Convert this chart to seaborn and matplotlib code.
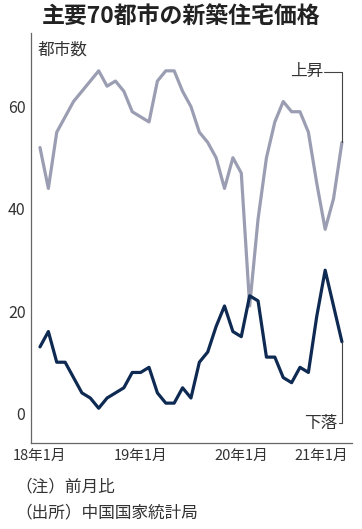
import numpy as np
import pandas as pd
import seaborn as sns
import matplotlib.pyplot as plt
from matplotlib.transforms import ScaledTranslation

# 主要70都市の新築住宅価格（前月比）、18年1月〜21年1月
months = list(range(37))
up = [52, 44, 55, 58, 61, 63, 65, 67, 64, 65, 63, 59,
      58, 57, 65, 67, 67, 63, 60, 55, 53, 50, 44, 50,
      47, 21, 38, 50, 57, 61, 59, 59, 55, 45, 36, 42, 53]
down = [13, 16, 10, 10, 7, 4, 3, 1, 3, 4, 5, 8,
        8, 9, 4, 2, 2, 5, 3, 10, 12, 17, 21, 16,
        15, 23, 22, 11, 11, 7, 6, 9, 8, 19, 28, 21, 14]
tick_pos = [0, 12, 24, 36]
tick_labels = ['18年1月', '19年1月', '20年1月', '21年1月']

sns.set_style('white')
plt.rcParams['font.family'] = ['Noto Sans CJK JP', 'DejaVu Sans']

df = pd.DataFrame({'month': months * 2,
                   'value': up + down,
                   'kind': ['上昇'] * len(up) + ['下落'] * len(down)})

fig = plt.figure(figsize=(3.62, 5.29), dpi=100)
ax = fig.add_axes([31 / 362, 1 - 443 / 529, 321 / 362, 410 / 529])

sns.lineplot(data=df, x='month', y='value', hue='kind',
             palette={'上昇': '#9b9eb2', '下落': '#0e2a52'},
             linewidth=2.3, legend=False, ax=ax)

ax.set_xlim(-1.07, 37.2)
ax.set_ylim(-5.8, 74.4)
ax.set_xticks(tick_pos)
ax.set_xticklabels(tick_labels)
ax.set_yticks([0, 20, 40, 60])
ax.set_xlabel('')
ax.set_ylabel('')
for s in ['top', 'right']:
    ax.spines[s].set_visible(False)
for s in ['left', 'bottom']:
    ax.spines[s].set_color('#666666')
    ax.spines[s].set_linewidth(0.9)
ax.tick_params(direction='in', length=4, width=0.8, color='#666666',
               labelcolor='#333333', pad=4)
ax.tick_params(axis='y', labelsize=11.5)
ax.tick_params(axis='x', labelsize=10.5)

# 最後の目盛ラベルは右端に収める
lab = ax.get_xticklabels()[-1]
lab.set_horizontalalignment('right')
lab.set_transform(lab.get_transform() + ScaledTranslation(6 / 100, 0, fig.dpi_scale_trans))

ax.text(0.022, 0.958, '都市数', transform=ax.transAxes, fontsize=12,
        color='#333333', va='center', ha='left')

# ラベルと引き出し線
last = months[-1]
ax.text(33.8, 66.8, '上昇', fontsize=12, color='#333333', ha='right', va='center')
ax.plot([33.9, last, last], [66.8, 66.8, up[-1]], color='#444444', lw=0.8)
ax.text(35.5, -1.9, '下落', fontsize=12, color='#333333', ha='right', va='center')
ax.plot([35.6, last, last], [-1.9, -1.9, down[-1]], color='#444444', lw=0.8)

fig.text(0.5, 1 - 17 / 529, '主要70都市の新築住宅価格', ha='center', va='center',
         fontsize=16.5, fontweight='bold', color='#222222')
fig.text(15 / 362, 1 - 487 / 529, '（注）前月比', ha='left', va='center',
         fontsize=12, color='#333333')
fig.text(15 / 362, 1 - 513 / 529, '（出所）中国国家統計局', ha='left', va='center',
         fontsize=12, color='#333333')

fig.savefig('out.png', dpi=100)
